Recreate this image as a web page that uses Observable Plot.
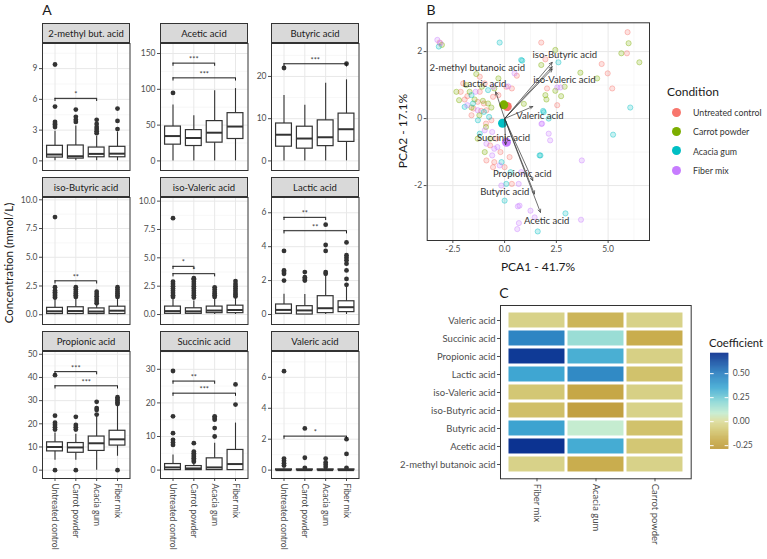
<!DOCTYPE html>
<html>
<head>
<meta charset="utf-8">
<script src="https://cdn.jsdelivr.net/npm/d3@7"></script>
<script src="https://cdn.jsdelivr.net/npm/@observablehq/plot@0.6"></script>
<style>
  body { margin: 0; background: #fff; }
  #fig { position: relative; width: 767px; height: 559px; overflow: hidden; background: #fff;
         font-family: Lato, "Open Sans", sans-serif; }
  .abs { position: absolute; }
  .abs svg { max-width: none !important; background: none !important; }
  .strip { position: absolute; box-sizing: border-box; background: #d9d9d9; border: 1px solid #333;
           display: flex; align-items: center; justify-content: center; font-size: 9.5px; color: #1a1a1a; }
  .txt { position: absolute; white-space: nowrap; color: #1a1a1a; }
</style>
</head>
<body>
<div id="fig"></div>
<script>
const FONT = 'Lato, "Open Sans", sans-serif';

// ---------- Panel A: concentrations per condition ----------
const groups = ["Untreated control", "Carrot powder", "Acacia gum", "Fiber mix"];
const facetNames = ["2-methyl but. acid", "Acetic acid", "Butyric acid",
                    "iso-Butyric acid", "iso-Valeric acid", "Lactic acid",
                    "Propionic acid", "Succinic acid", "Valeric acid"];

// box summaries per group: [lower whisker, Q1, median, Q3, upper whisker]
const boxMethylBut = [[0, 0.32, 0.62, 1.47, 2.9], [0, 0.22, 0.45, 1.5, 3.4], [0, 0.35, 0.68, 1.3, 2.4], [0, 0.35, 0.7, 1.37, 2.8]];
const outMethylBut = [[3.3, 3.5, 3.6, 3.8, 5.3, 9.4], [3.8, 4.0, 4.3, 5.0], [2.7, 2.9, 3.1, 3.3, 3.6, 4.0], [3.1, 3.9, 5.1]];
const sigMethylBut = [[1, 3, 6.1, "*"]];
const ticksMethylBut = [0, 3, 6, 9];

const boxAcetic = [[0, 22.7, 34.7, 48, 78], [0, 20.8, 32, 43, 63], [0, 25.5, 39.4, 55.6, 98], [0, 30.6, 48, 66.7, 101]];
const outAcetic = [[95], [], [], []];
const sigAcetic = [[1, 3, 136.6, "***"], [1, 4, 116, "***"]];
const ticksAcetic = [0, 50, 100, 150];

const boxButyric = [[0, 3.37, 6.2, 8.86, 15.5], [0, 2.9, 5.3, 8.1, 13.2], [0, 3.5, 5.6, 9.6, 18.4], [0, 4.5, 7.5, 11.2, 19.2]];
const outButyric = [[22], [], [], [23]];
const sigButyric = [[1, 4, 23, "***"]];
const ticksButyric = [0, 10, 20];

const boxIsoButyric = [[0, 0.06, 0.3, 0.6, 1.35], [0, 0.06, 0.32, 0.65, 1.4], [0, 0.06, 0.28, 0.55, 0.9], [0, 0.06, 0.35, 0.7, 1.4]];
const outIsoButyric = [[1.5, 1.65, 1.8, 1.95, 2.1, 2.4, 8.5], [1.55, 1.7, 1.85, 2.0, 2.2, 2.4], [1.0, 1.2, 1.4, 1.6, 1.8, 2.0], [1.55, 1.7, 1.85, 2.0, 2.2, 2.4]];
const sigIsoButyric = [[1, 3, 2.95, "**"]];
const ticksIso = [0, 2.5, 5, 7.5, 10];

const boxIsoValeric = [[0, 0.06, 0.3, 0.7, 1.4], [0, 0.06, 0.28, 0.55, 1.2], [0, 0.12, 0.35, 0.7, 1.4], [0, 0.12, 0.4, 0.78, 1.5]];
const outIsoValeric = [[1.55, 1.7, 1.9, 2.1, 2.3, 2.5, 2.7, 2.9, 8.5], [1.5, 1.7, 1.9, 2.1, 2.3, 2.5, 2.7, 2.9, 3.1, 3.2], [1.55, 1.7, 1.85, 2.0, 2.2, 2.4], [1.6, 1.75, 1.9, 2.1, 2.3, 2.5, 2.7, 2.95]];
const sigIsoValeric = [[1, 2, 4.25, "*"], [1, 3, 3.6, "*"]];

const boxLactic = [[0, 0.04, 0.27, 0.59, 1.2], [0, 0, 0.24, 0.49, 1.18], [0, 0.08, 0.37, 1.08, 2.3], [0, 0.14, 0.43, 0.78, 1.7]];
const outLactic = [[2.0, 2.4, 2.5, 2.6, 3.75], [2.0, 2.1, 2.2, 2.5], [2.4, 2.5, 3.75, 4.1, 5.3], [1.75, 2.1, 2.6, 3.0, 3.2, 3.35, 3.5, 4.25]];
const sigLactic = [[1, 3, 5.73, "**"], [1, 4, 4.94, "**"]];
const ticksLactic = [0, 2, 4, 6];

const boxPropionic = [[4.3, 8.1, 10, 12, 16], [4.3, 7.5, 9.8, 11.7, 15.5], [0, 8.3, 11.6, 14.5, 23.5], [6, 10.6, 13.3, 17, 27.5]];
const outPropionic = [[0, 17.5, 18.5, 19.5, 20.5, 23.5, 41], [0, 17.5, 18.5, 19.5, 23], [24, 26, 26.8, 29.5], [0, 28.5, 29.2, 30, 30.7, 31.5]];
const sigPropionic = [[1, 3, 42.5, "***"], [1, 4, 36.4, "***"]];
const ticksPropionic = [0, 10, 20, 30, 40, 50];

const boxSuccinic = [[0, 0, 0.8, 1.8, 4.5], [0, 0, 0.5, 1.2, 2.2], [0, 0, 0.8, 3.5, 8], [0, 0, 1.8, 6, 14]];
const outSuccinic = [[7.5, 8.2, 9, 11, 16, 29.5], [2.5, 3, 3.5, 4, 4.5, 5, 5.5, 8], [10, 12.5, 15, 15.5, 16], [19.5, 25.5]];
const sigSuccinic = [[1, 3, 26.5, "**"], [1, 4, 22.9, "***"]];
const ticksSuccinic = [0, 10, 20, 30];

const boxValeric = [[0, 0, 0, 0.05, 0.1], [0, 0, 0, 0.05, 0.1], [0, 0, 0, 0.05, 0.1], [0, 0, 0, 0.05, 0.1]];
const outValeric = [[0.3, 0.45, 0.6, 0.75, 6.4], [0.15, 0.8, 2.7], [0.2, 0.35, 0.5, 0.75], [0.15, 1.05, 2.0]];
const sigValeric = [[1, 4, 2.2, "*"]];
const ticksValeric = [0, 2, 4, 6];

// ---------- Panel B: PCA scores and loadings ----------
const conditions = ["Untreated control", "Carrot powder", "Acacia gum", "Fiber mix"];
const condColors = ["#F8766D", "#7CAE00", "#00BFC4", "#C77CFF"];

const scoresUntreated = [[-3.14, 2.27], [1.77, 2.27], [-1.2, 1.25], [-2.0, 1.05], [-0.96, 1.05], [0.08, 0.95], [0.35, 0.9],
  [-2.12, 0.8], [-1.8, 0.67], [-1.2, 0.8], [-1.93, 0.57], [-1.3, 0.5], [-0.56, 0.65], [-1.13, 0.23], [-0.88, 0.25],
  [-1.5, 0.3], [-0.9, -0.15], [-0.64, -0.05], [-0.7, -0.8], [-0.88, -1.25], [-0.5, -1.3], [0.24, -1.15], [0, -1.45],
  [-0.56, -1.45], [0.35, -1.95], [0.59, 1.28], [5.94, 2.58], [5.91, 1.95], [4.69, 1.63], [4.98, 1.35], [5.2, 0.9],
  [1.97, 1.77], [2.05, 0.9], [2.54, 0.4], [-0.3, 0.7], [-1.6, 0.1], [-1.0, 0.45], [-0.4, -0.6], [-0.2, -1.0]];
const scoresCarrot = [[-3.03, 2.2], [-1.37, 1.33], [-1.85, 1.0], [-2.33, 0.8], [-1.69, 0.8], [-1.45, 0.57], [-1.05, 0.53],
  [-0.64, 0.33], [-0.8, 0.45], [-1.6, 0.33], [-1.22, 0.1], [-0.9, -0.25], [-0.96, -1.0], [-0.7, -0.6], [1.77, 1.6],
  [0.93, 0.44], [2.45, 2.05], [5.99, 2.25], [5.64, 1.95], [6.51, 1.68], [3.66, 1.37], [4.47, 1.2], [2.9, 0.95],
  [2.73, 0.67], [2.45, 0.83], [1.97, 0.7], [2.02, 0.57], [-0.5, 0.9], [-1.1, 0.95], [-0.3, 1.2], [-2.2, 0.55], [-1.3, -0.6]];
const scoresAcacia = [[-3.18, 2.15], [-0.24, 2.27], [0.8, 1.75], [0.85, 1.73], [2.6, 1.68], [-0.8, 0.85], [-1.53, 0.45],
  [-1.93, 0.35], [-1.29, -0.05], [-1.2, -0.45], [-0.75, 0.05], [1.69, -1.1], [0.29, -1.6], [0.08, -1.95], [0, -2.45],
  [1.6, -3.37], [2.94, -2.83], [6.07, 0.33], [5.24, -0.48], [1.86, 0.23], [2.13, 0], [1.89, 0.19], [1.73, -1.1],
  [-0.15, -1.3], [-1.6, 0.7], [-1.0, 0.2]];
const scoresFiber = [[-3.25, 2.35], [-3.1, 2.25], [0.48, 1.35], [-0.56, 0.95], [-1.4, 0.8], [-1.3, 0.25], [-0.96, -0.35],
  [-0.6, -0.4], [-0.88, -0.75], [-0.5, -0.9], [-0.35, -0.85], [-0.6, -1.1], [-0.24, -1.4], [0.8, -1.6], [-0.16, -2.0],
  [0.68, -1.95], [0.72, -2.6], [1.25, -2.75], [1.45, -2.95], [0.69, -3.12], [0.61, -3.3], [0.64, -2.62], [3.73, -1.25],
  [3.69, -3.02], [2.54, 0.93], [1.81, -0.15], [2.13, -0.45], [2.2, -0.65], [0.17, 0.96], [2.7, 0.93], [1.78, -0.16], [-1.8, 0.4]];
const centroidPC1 = [0.13, -0.04, -0.1, 0.09];
const centroidPC2 = [0.36, 0.41, -0.14, -0.71];

const loadingNames = ["2-methyl butanoic acid", "iso-Butyric acid", "iso-Valeric acid", "Lactic acid", "Valeric acid",
                      "Succinic acid", "Propionic acid", "Butyric acid", "Acetic acid"];
const loadingPC1 = [2.3, 2.3, 2.3, -0.43, 1.36, 0.05, 1.36, 1.44, 1.73];
const loadingPC2 = [1.48, 1.68, 1.55, 0.8, 0.36, -0.78, -1.85, -2.25, -2.8];
const labelPC1 = [-1.32, 2.91, 2.89, -0.97, 1.71, -0.05, 0.85, 0.01, 2.03];
const labelPC2 = [1.5, 1.9, 1.16, 1.04, 0.07, -0.58, -1.65, -2.2, -3.07];

// ---------- Panel C: coefficients ----------
const heatRows = ["Valeric acid", "Succinic acid", "Propionic acid", "Lactic acid", "iso-Valeric acid",
                  "iso-Butyric acid", "Butyric acid", "Acetic acid", "2-methyl butanoic acid"];
const heatCols = ["Fiber mix", "Acacia gum", "Carrot powder"];
const coefFiber  = [-0.05, 0.48, 0.68, 0.36, -0.1, -0.13, 0.37, 0.7, -0.05];
const coefAcacia = [-0.17, 0.17, 0.33, 0.46, -0.23, -0.26, 0.08, 0.34, -0.2];
const coefCarrot = [-0.05, -0.2, -0.06, -0.12, -0.06, -0.05, -0.12, -0.1, -0.05];
const coefStops  = [-0.29, -0.2, -0.1, 0, 0.08, 0.2, 0.35, 0.5, 0.71];
const coefColors = ["#bf9a3a", "#c9ad4e", "#d3c774", "#dcdd9e", "#c5ecd0", "#8cd8d6", "#40a9d3", "#2b7fc0", "#0a2f8f"];
const coefTicks  = [-0.25, 0, 0.25, 0.5];

// ---------- helpers ----------
const fig = document.getElementById("fig");
function place(node, left, top) {
  const d = document.createElement("div");
  d.className = "abs";
  d.style.left = left + "px";
  d.style.top = top + "px";
  d.appendChild(node);
  fig.appendChild(d);
  return d;
}
function label(text, x, y, size, rotate = 0, extra = {}) {
  const d = document.createElement("div");
  d.className = "txt";
  d.textContent = text;
  d.style.left = x + "px";
  d.style.top = y + "px";
  d.style.fontSize = size + "px";
  d.style.transform = `translate(-50%, -50%) rotate(${rotate}deg)`;
  Object.assign(d.style, extra);
  fig.appendChild(d);
  return d;
}
function minorTicks(ticks, domain) {
  const step = ticks[1] - ticks[0];
  const out = [];
  for (let v = ticks[0] - step / 2; v <= domain[1]; v += step) if (v >= domain[0]) out.push(v);
  return out;
}

// ---------- Panel A ----------
const facets = [
  {box: boxMethylBut, out: outMethylBut, sig: sigMethylBut, ticks: ticksMethylBut, domain: [-0.94, 11.45]},
  {box: boxAcetic, out: outAcetic, sig: sigAcetic, ticks: ticksAcetic, domain: [-13.4, 164]},
  {box: boxButyric, out: outButyric, sig: sigButyric, ticks: ticksButyric, domain: [-2.27, 27.8]},
  {box: boxIsoButyric, out: outIsoButyric, sig: sigIsoButyric, ticks: ticksIso, domain: [-0.85, 10.2], fmt: d => d.toFixed(1)},
  {box: boxIsoValeric, out: outIsoValeric, sig: sigIsoValeric, ticks: ticksIso, domain: [-0.88, 10.32], fmt: d => d.toFixed(1)},
  {box: boxLactic, out: outLactic, sig: sigLactic, ticks: ticksLactic, domain: [-0.59, 6.9]},
  {box: boxPropionic, out: outPropionic, sig: sigPropionic, ticks: ticksPropionic, domain: [-3.6, 51.2]},
  {box: boxSuccinic, out: outSuccinic, sig: sigSuccinic, ticks: ticksSuccinic, domain: [-2.5, 35.3]},
  {box: boxValeric, out: outValeric, sig: sigValeric, ticks: ticksValeric, domain: [-0.54, 7.67]}
];

const colLeft = [42, 160, 271];
const rowTop = [42.5, 196.5, 350.5];
const panelW = 87.5, panelH = 127, stripH = 19.5, mL = 40;
const half = 0.38;

facets.forEach((f, k) => {
  const row = Math.floor(k / 3), col = k % 3;
  const bottomRow = row === 2;
  const stats = f.box.map((b, i) => ({g: i + 1, lo: b[0], q1: b[1], med: b[2], q3: b[3], hi: b[4]}));
  const outl = f.out.flatMap((a, i) => a.map(v => ({g: i + 1, v})));
  const sig = f.sig.map(([a, b, h, lab]) => ({a, b, h, lab}));
  const drop = 0.025 * (f.domain[1] - f.domain[0]);
  const mB = bottomRow ? 82 : 1;
  const plot = Plot.plot({
    width: mL + panelW + 1,
    height: 1 + panelH + mB,
    marginLeft: mL, marginRight: 1, marginTop: 1, marginBottom: mB,
    style: {fontFamily: FONT, fontSize: "8.5px", color: "#4d4d4d", background: "none"},
    x: bottomRow
      ? {domain: [0.4, 4.6], ticks: [1, 2, 3, 4], tickFormat: d => groups[d - 1], tickRotate: 90,
         tickSize: 3, tickPadding: 2, label: null, fontSize: 9.5}
      : {domain: [0.4, 4.6], axis: null},
    y: {domain: f.domain, ticks: f.ticks, tickFormat: f.fmt || (d => String(d)), tickSize: 3, tickPadding: 2, label: null},
    marks: [
      Plot.ruleY(minorTicks(f.ticks, f.domain), {stroke: "#f2f2f2", strokeWidth: 0.6}),
      Plot.ruleY(f.ticks, {stroke: "#e8e8e8", strokeWidth: 1}),
      Plot.ruleX([1, 2, 3, 4], {stroke: "#e8e8e8", strokeWidth: 1}),
      Plot.ruleX(stats, {x: "g", y1: "lo", y2: "hi", stroke: "#333", strokeWidth: 1.1}),
      Plot.rect(stats, {x1: d => d.g - half, x2: d => d.g + half, y1: "q1", y2: "q3", fill: "white", stroke: "#333", strokeWidth: 1.2}),
      Plot.ruleY(stats, {x1: d => d.g - half, x2: d => d.g + half, y: "med", stroke: "#333", strokeWidth: 2}),
      Plot.dot(outl, {x: "g", y: "v", r: 2.4, fill: "#333", stroke: "none"}),
      Plot.ruleY(sig, {x1: "a", x2: "b", y: "h", stroke: "#1a1a1a", strokeWidth: 1}),
      Plot.ruleX(sig, {x: "a", y1: "h", y2: d => d.h - drop, stroke: "#1a1a1a", strokeWidth: 1}),
      Plot.ruleX(sig, {x: "b", y1: "h", y2: d => d.h - drop, stroke: "#1a1a1a", strokeWidth: 1}),
      Plot.text(sig, {x: d => (d.a + d.b) / 2, y: "h", text: "lab", lineAnchor: "bottom", dy: -1, fontSize: 7.5, fill: "#444"}),
      Plot.frame({stroke: "#333", strokeWidth: 1})
    ]
  });
  place(plot, colLeft[col] - mL, rowTop[row] - 1);
  const s = document.createElement("div");
  s.className = "strip";
  s.textContent = facetNames[k];
  Object.assign(s.style, {left: colLeft[col] + "px", top: (rowTop[row] - stripH) + "px",
                          width: (panelW + 0.5) + "px", height: (stripH + 0.5) + "px"});
  fig.appendChild(s);
});

label("A", 47, 9, 14);
label("Concentration (mmol/L)", 8, 263, 11.5, -90);

// ---------- Panel B ----------
const scoreSets = [scoresUntreated, scoresCarrot, scoresAcacia, scoresFiber];
const scores = scoreSets.flatMap((set, i) => set.map(([x, y]) => ({x, y, c: conditions[i]})));
const centroids = conditions.map((c, i) => ({c, x: centroidPC1[i], y: centroidPC2[i]}));
const loadings = loadingNames.map((n, i) => ({n, tx: loadingPC1[i], ty: loadingPC2[i], lx: labelPC1[i], ly: labelPC2[i]}));

const pca = Plot.plot({
  width: 272, height: 263,
  marginLeft: 46.7, marginRight: 3, marginTop: 7.3, marginBottom: 38,
  style: {fontFamily: FONT, fontSize: "8.5px", color: "#4d4d4d", background: "none"},
  x: {domain: [-3.74, 7.0], ticks: [-2.5, 0, 2.5, 5], tickFormat: d => d.toFixed(1), tickSize: 3, tickPadding: 2, label: null},
  y: {domain: [-3.64, 2.86], ticks: [-2, 0, 2], tickFormat: d => String(d), tickSize: 3, tickPadding: 2, label: null},
  color: {domain: conditions, range: condColors},
  marks: [
    Plot.ruleX([-1.25, 1.25, 3.75, 6.25], {stroke: "#f2f2f2", strokeWidth: 0.6}),
    Plot.ruleY([-3, -1, 1], {stroke: "#f2f2f2", strokeWidth: 0.6}),
    Plot.ruleX([-2.5, 0, 2.5, 5], {stroke: "#e8e8e8", strokeWidth: 1}),
    Plot.ruleY([-2, 0, 2], {stroke: "#e8e8e8", strokeWidth: 1}),
    Plot.dot(scores, {x: "x", y: "y", fill: "c", stroke: "c", r: 2.6, fillOpacity: 0.22, strokeOpacity: 0.5, strokeWidth: 0.8}),
    Plot.dot(centroids, {x: "x", y: "y", fill: "c", r: 4.5, stroke: "none"}),
    Plot.arrow(loadings, {x1: 0, y1: 0, x2: "tx", y2: "ty", stroke: "#333", strokeWidth: 0.7, headLength: 7, headAngle: 50}),
    Plot.text(loadings, {x: "lx", y: "ly", text: "n", fontSize: 9.5, fill: "#333"}),
    Plot.frame({stroke: "#333", strokeWidth: 1})
  ]
});
place(pca, 380, 15);
label("B", 431, 9, 14);
label("PCA1 - 41.7%", 538, 266, 12);
label("PCA2 - 17.1%", 402, 131, 12, -90);

// legend for conditions
label("Condition", 667, 91, 12, 0, {transform: "translate(0, -50%)"});
conditions.forEach((c, i) => {
  const y = 112 + i * 19.4;
  const dot = document.createElement("div");
  Object.assign(dot.style, {position: "absolute", left: (676.7 - 4.5) + "px", top: (y - 4.5) + "px",
                            width: "9px", height: "9px", borderRadius: "50%", background: condColors[i]});
  fig.appendChild(dot);
  label(c, 693, y, 8.8, 0, {transform: "translate(0, -50%)", color: "#333"});
});

// ---------- Panel C ----------
const coefSets = [coefFiber, coefAcacia, coefCarrot];
const cells = heatCols.flatMap((col, j) => heatRows.map((r, i) => ({col, r, v: coefSets[j][i]})));
const heat = Plot.plot({
  width: 120 + 190.7 + 1, height: 10 + 173.3 + 80,
  marginLeft: 120, marginRight: 1, marginTop: 10, marginBottom: 80,
  style: {fontFamily: FONT, fontSize: "9.5px", color: "#4d4d4d", background: "none"},
  x: {domain: heatCols, paddingInner: 0, paddingOuter: 0.1, tickRotate: 90, tickSize: 3, tickPadding: 2, label: null},
  y: {domain: heatRows, paddingInner: 0, paddingOuter: 0.1, tickSize: 3, tickPadding: 2, label: null},
  color: {type: "linear", domain: coefStops, range: coefColors, interpolate: "rgb"},
  marks: [
    Plot.cell(cells, {x: "col", y: "r", fill: "v", inset: 1.5}),
    Plot.frame({stroke: "#333", strokeWidth: 1})
  ]
});
place(heat, 380, 295);
label("C", 504, 292, 14);

// colour bar for the coefficients
const rampStep = 0.005;
const ramp = d3.range(coefStops[0], coefStops[coefStops.length - 1], rampStep);
const bar = Plot.plot({
  width: 60, height: 96 + 16,
  marginLeft: 10, marginRight: 31.7, marginTop: 8, marginBottom: 8,
  style: {fontFamily: FONT, fontSize: "8.5px", color: "#4d4d4d", background: "none"},
  x: {domain: [0, 1], axis: null},
  y: {domain: [coefStops[0], coefStops[coefStops.length - 1]], ticks: coefTicks, tickFormat: d => d.toFixed(2),
      axis: "right", tickSize: 0, tickPadding: 4, label: null},
  color: {type: "linear", domain: coefStops, range: coefColors, interpolate: "rgb"},
  marks: [
    Plot.rect(ramp, {x1: 0, x2: 1, y1: d => d, y2: d => d + rampStep * 1.6, fill: d => d}),
    Plot.ruleY(coefTicks, {x1: 0, x2: 0.2, stroke: "white", strokeWidth: 1}),
    Plot.ruleY(coefTicks, {x1: 0.8, x2: 1, stroke: "white", strokeWidth: 1})
  ]
});
place(bar, 700, 345.3);
label("Coefficient", 709, 342, 11.3, 0, {transform: "translate(0, -50%)"});
</script>
</body>
</html>
